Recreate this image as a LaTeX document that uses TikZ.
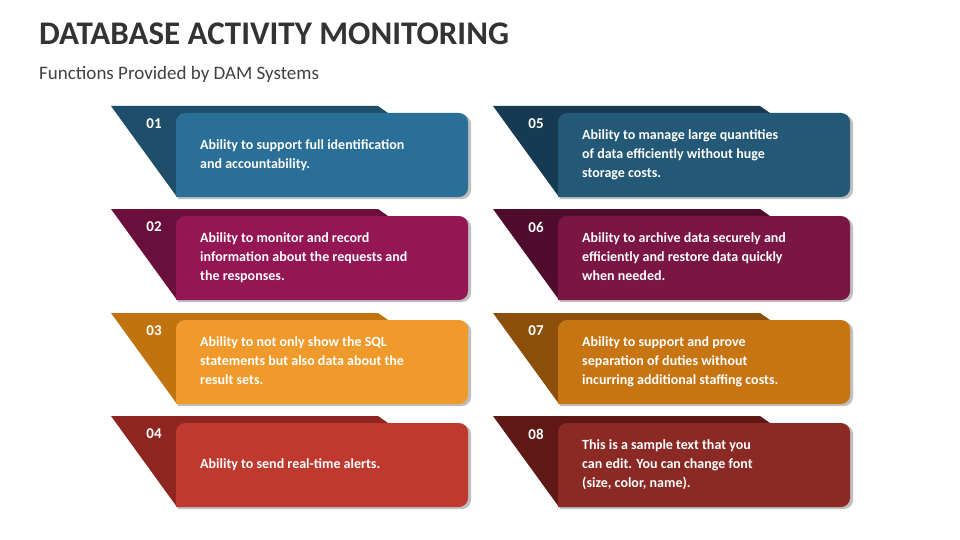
\documentclass[tikz,border=0pt]{standalone}
\usepackage{fontspec}
\setmainfont{Carlito}
\definecolor{la}{HTML}{2A6F97}\definecolor{da}{HTML}{1F4E6B}
\definecolor{lb}{HTML}{951654}\definecolor{db}{HTML}{6A0F3C}
\definecolor{lc}{HTML}{F09A2B}\definecolor{dc}{HTML}{C0730F}
\definecolor{ld}{HTML}{C0392F}\definecolor{dd}{HTML}{8E2520}
\definecolor{le}{HTML}{245877}\definecolor{de}{HTML}{163A52}
\definecolor{lf}{HTML}{7A1544}\definecolor{df}{HTML}{500C2C}
\definecolor{lg}{HTML}{C77412}\definecolor{dg}{HTML}{8C4F0A}
\definecolor{lh}{HTML}{8B2A25}\definecolor{dh}{HTML}{5E1915}
\begin{document}
\begin{tikzpicture}[x=1pt,y=-1pt,
  lbl/.style={anchor=north west,text=white,font=\fontsize{14}{19}\selectfont\bfseries,align=left,inner sep=0},
  num/.style={text=white,font=\fontsize{15}{18}\selectfont\bfseries,inner sep=0}]
\useasboundingbox[fill=white] (0,0) rectangle (960,540);
\node[anchor=west,inner sep=0,font=\fontsize{33}{36}\selectfont\bfseries,text=black!80] (title) at (39,34) {DATABASE ACTIVITY MONITORING};
\node[anchor=west,inner sep=0,font=\fontsize{19}{22}\selectfont,text=black!75] (sub) at (39,74) {Functions Provided by DAM Systems};
\newcommand{\damitem}[6]{%
  \fill[d#5] (#1,#2) -- (#1+267,#2) -- (#1+277,#2+7) -- (#1+277,#2+50) -- (#1+66,#2+91) -- cycle;
  \fill[black,opacity=0.25] (#1+67,#2+9) [rounded corners=9pt] -- (#1+360,#2+9) -- (#1+360,#2+93) [sharp corners] -- (#1+67,#2+93) -- cycle;
  \fill[l#5] (#1+65,#2+7) [rounded corners=9pt] -- (#1+357,#2+7) -- (#1+357,#2+91) [sharp corners] -- (#1+65,#2+91) [rounded corners=9pt] -- cycle;
  \node[num] (n#5) at (#1+43,#2+18) {#3};
  \node[lbl] (t#5) at (#1+89,#2+#6) {#4};}
\damitem{111}{106}{01}{Ability to support full identification\\and accountability.}{a}{33}
\damitem{111}{209}{02}{Ability to monitor and record\\information about the requests and\\the responses.}{b}{23}
\damitem{111}{313}{03}{Ability to not only show the SQL\\statements but also data about the\\result sets.}{c}{23}
\damitem{111}{416}{04}{Ability to send real-time alerts.}{d}{42}
\damitem{493}{106}{05}{Ability to manage large quantities\\of data efficiently without huge\\storage costs.}{e}{23}
\damitem{493}{209}{06}{Ability to archive data securely and\\efficiently and restore data quickly\\when needed.}{f}{23}
\damitem{493}{313}{07}{Ability to support and prove\\separation of duties without\\incurring additional staffing costs.}{g}{23}
\damitem{493}{416}{08}{This is a sample text that you\\can edit. You can change font\\(size, color, name).}{h}{23}
\end{tikzpicture}
\end{document}
